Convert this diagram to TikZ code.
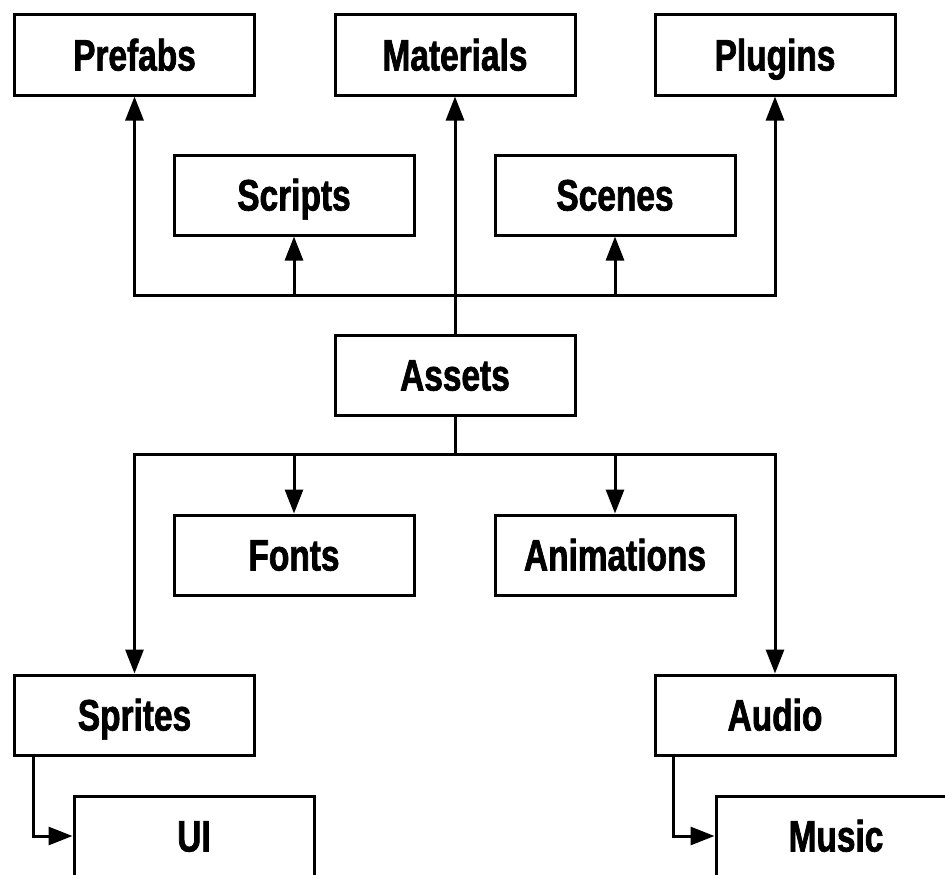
\documentclass[tikz,border=0pt]{standalone}
\usepackage{fontspec}
\setmainfont{Liberation Sans}[FakeStretch=0.76, BoldFeatures={FakeBold=1.6}]
\usetikzlibrary{arrows.meta}
\tikzset{
	folder/.style={draw, rectangle, line width=3pt, minimum width=240pt, minimum height=80pt, inner sep=0pt, text height=31pt, text depth=0pt, font=\fontsize{44}{50}\selectfont\bfseries},
	link/.style={line width=3pt, -{Triangle[length=24pt, width=18pt]}},
	trunk/.style={line width=3pt}
}

\begin{document}
\begin{tikzpicture}[x=1pt, y=-1pt]
			%%%%% START %%%%%
			\useasboundingbox (0, 0) rectangle (945, 875);
			
			\node[folder] (prefabs) at (134.5, 55) {Prefabs};
			\node[folder] (materials) at (455, 55) {Materials};
			\node[folder] (plugins) at (775, 55) {Plugins};
			
			\node[folder] (scripts) at (294, 195) {Scripts};
			\node[folder] (scenes) at (615, 195) {Scenes};
			
			\node[folder] (assets) at (455, 375) {Assets};
			
			\node[folder] (fonts) at (294, 555) {Fonts};
			\node[folder] (animations) at (615, 555) {Animations};
			
			\node[folder] (sprites) at (134.5, 715) {Sprites};
			\node[folder] (audio) at (775, 715) {Audio};
			
			\node[folder] (ui) at (194, 836) {UI};
			\node[folder] (music) at (836, 836) {Music};
			
			\coordinate (topbus) at (455, 295);
			\coordinate (lowbus) at (455, 454);
			
			\draw[trunk] (assets.north) -- (topbus);
			\draw[link] (topbus) -| (prefabs.south);
			\draw[link] (topbus) -- (materials.south);
			\draw[link] (topbus) -| (plugins.south);
			\draw[link] (topbus) -| (scripts.south);
			\draw[link] (topbus) -| (scenes.south);
			
			\draw[trunk] (assets.south) -- (lowbus);
			\draw[link] (lowbus) -| (sprites.north);
			\draw[link] (lowbus) -| (fonts.north);
			\draw[link] (lowbus) -| (animations.north);
			\draw[link] (lowbus) -| (audio.north);
			
			\draw[link] ([xshift=20pt]sprites.south west) |- (ui.west);
			\draw[link] ([xshift=20pt]audio.south west) |- (music.west);
			
			%%%%% END %%%%%
\end{tikzpicture}
\end{document}
